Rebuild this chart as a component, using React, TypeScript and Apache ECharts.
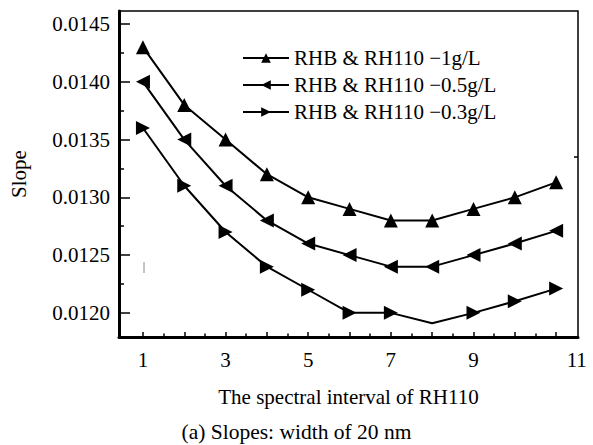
import React, { useEffect, useRef } from "react";
import * as echarts from "echarts";

const xValues = [1, 2, 3, 4, 5, 6, 7, 8, 9, 10, 11];
const seriesNames = [
  "RHB & RH110 \u22121g/L",
  "RHB & RH110 \u22120.5g/L",
  "RHB & RH110 \u22120.3g/L",
];
const slope1g = [0.0143, 0.0138, 0.0135, 0.0132, 0.013, 0.0129, 0.0128, 0.0128, 0.0129, 0.013, 0.01313];
const slope05g = [0.014, 0.0135, 0.0131, 0.0128, 0.0126, 0.0125, 0.0124, 0.0124, 0.0125, 0.0126, 0.01271];
const slope03g = [0.0136, 0.0131, 0.0127, 0.0124, 0.0122, 0.012, 0.012, 0.01191, 0.012, 0.0121, 0.01221];
const yTickLabels = [0.012, 0.0125, 0.013, 0.0135, 0.014, 0.0145];
const yMinorTicks = [0.01225, 0.01275, 0.01325, 0.01375, 0.01425];
const xMajorTicks = [1, 2, 3, 4, 5, 6, 7, 8, 9, 10, 11];
const xMinorTicks = [1.5, 2.5, 3.5, 4.5, 5.5, 6.5, 7.5, 8.5, 9.5, 10.5];
const xTickLabels = [1, 3, 5, 7, 9];
const xLastLabel = "11";
const hiddenMarkerIndex3 = 7;

const FONT = "Liberation Serif";

export default function App() {
  const ref = useRef<HTMLDivElement>(null);
  useEffect(() => {
    if (!ref.current) return;
    const chart = echarts.init(ref.current, null, { renderer: "svg" });
    const xMin = 0.42;
    const xMax = 11.53;
    const yMin = 0.011791;
    const yMax = 0.014613;
    const mk = (ys: number[], hideIdx?: number) =>
      xValues.map((x, i) =>
        i === hideIdx ? { value: [x, ys[i]], symbol: "none" } : { value: [x, ys[i]] }
      );
    const lineCommon = {
      type: "line",
      symbolSize: 14,
      lineStyle: { color: "#000", width: 2 },
      itemStyle: { color: "#000" },
      xAxisIndex: 0,
      yAxisIndex: 0,
    };
    chart.setOption({
      animation: false,
      backgroundColor: "#fff",
      textStyle: { fontFamily: FONT, color: "#000" },
      grid: {
        left: 116,
        right: 15,
        top: 11,
        bottom: 108,
        show: true,
        borderColor: "#000",
        borderWidth: 1.5,
      },
      legend: {
        orient: "vertical",
        left: 237,
        top: 42,
        itemWidth: 46,
        itemHeight: 12,
        itemGap: 5,
        textStyle: { fontFamily: FONT, fontSize: 21, color: "#000", lineHeight: 22 },
        data: seriesNames,
      },
      xAxis: [
        {
          type: "value",
          min: xMin,
          max: xMax,
          name: "The spectral interval of RH110",
          nameLocation: "middle",
          nameGap: 49,
          nameTextStyle: { fontFamily: FONT, fontSize: 21, color: "#000" },
          axisLine: { show: true, lineStyle: { color: "#000", width: 3 } },
          axisTick: {
            show: true,
            inside: true,
            length: 5,
            customValues: xMajorTicks,
            lineStyle: { color: "#000", width: 1.5 },
          },
          axisLabel: {
            show: true,
            margin: 12,
            fontFamily: FONT,
            fontSize: 21,
            color: "#000",
            customValues: [...xTickLabels, 11.5],
            formatter: (v: number) => (v > 11 ? xLastLabel : String(v)),
          },
          splitLine: { show: false },
        },
        {
          type: "value",
          min: xMin,
          max: xMax,
          position: "bottom",
          offset: 0,
          axisLine: { show: false },
          axisTick: {
            show: true,
            inside: true,
            length: 3.5,
            customValues: xMinorTicks,
            lineStyle: { color: "#000", width: 1.5 },
          },
          axisLabel: { show: false },
          splitLine: { show: false },
        },
      ],
      yAxis: [
        {
          type: "value",
          min: yMin,
          max: yMax,
          name: "Slope",
          nameLocation: "middle",
          nameGap: 90,
          nameRotate: 90,
          nameTextStyle: { fontFamily: FONT, fontSize: 21, color: "#000" },
          axisLine: { show: true, lineStyle: { color: "#000", width: 3 } },
          axisTick: {
            show: true,
            inside: true,
            length: 11,
            customValues: yTickLabels,
            lineStyle: { color: "#000", width: 1.5 },
          },
          axisLabel: {
            show: true,
            margin: 9,
            fontFamily: FONT,
            fontSize: 21,
            color: "#000",
            customValues: yTickLabels,
            formatter: (v: number) => v.toFixed(4),
          },
          splitLine: { show: false },
        },
        {
          type: "value",
          min: yMin,
          max: yMax,
          position: "left",
          offset: 0,
          axisLine: { show: false },
          axisTick: {
            show: true,
            inside: true,
            length: 5,
            customValues: yMinorTicks,
            lineStyle: { color: "#000", width: 1.5 },
          },
          axisLabel: { show: false },
          splitLine: { show: false },
        },
      ],
      series: [
        { ...lineCommon, name: seriesNames[0], symbol: "triangle", symbolRotate: 0, data: mk(slope1g) },
        { ...lineCommon, name: seriesNames[1], symbol: "triangle", symbolRotate: 90, data: mk(slope05g) },
        { ...lineCommon, name: seriesNames[2], symbol: "triangle", symbolRotate: -90, data: mk(slope03g, hiddenMarkerIndex3) },
      ],
      graphic: [
        {
          type: "text",
          left: "center",
          top: 421,
          style: {
            text: "(a) Slopes: width of 20 nm",
            fontFamily: FONT,
            fontSize: 21.5,
            fill: "#000",
          },
        },
        {
          type: "line",
          shape: { x1: 144, y1: 262, x2: 144, y2: 273 },
          style: { stroke: "#888", lineWidth: 1 },
        },
        {
          type: "line",
          shape: { x1: 578, y1: 157, x2: 574, y2: 157 },
          style: { stroke: "#000", lineWidth: 1.5 },
        },
      ],
    });
    return () => chart.dispose();
  }, []);
  return (
    <div
      ref={ref}
      style={{ position: "fixed", left: 0, top: 0, width: 593, height: 445, background: "#fff" }}
    />
  );
}
